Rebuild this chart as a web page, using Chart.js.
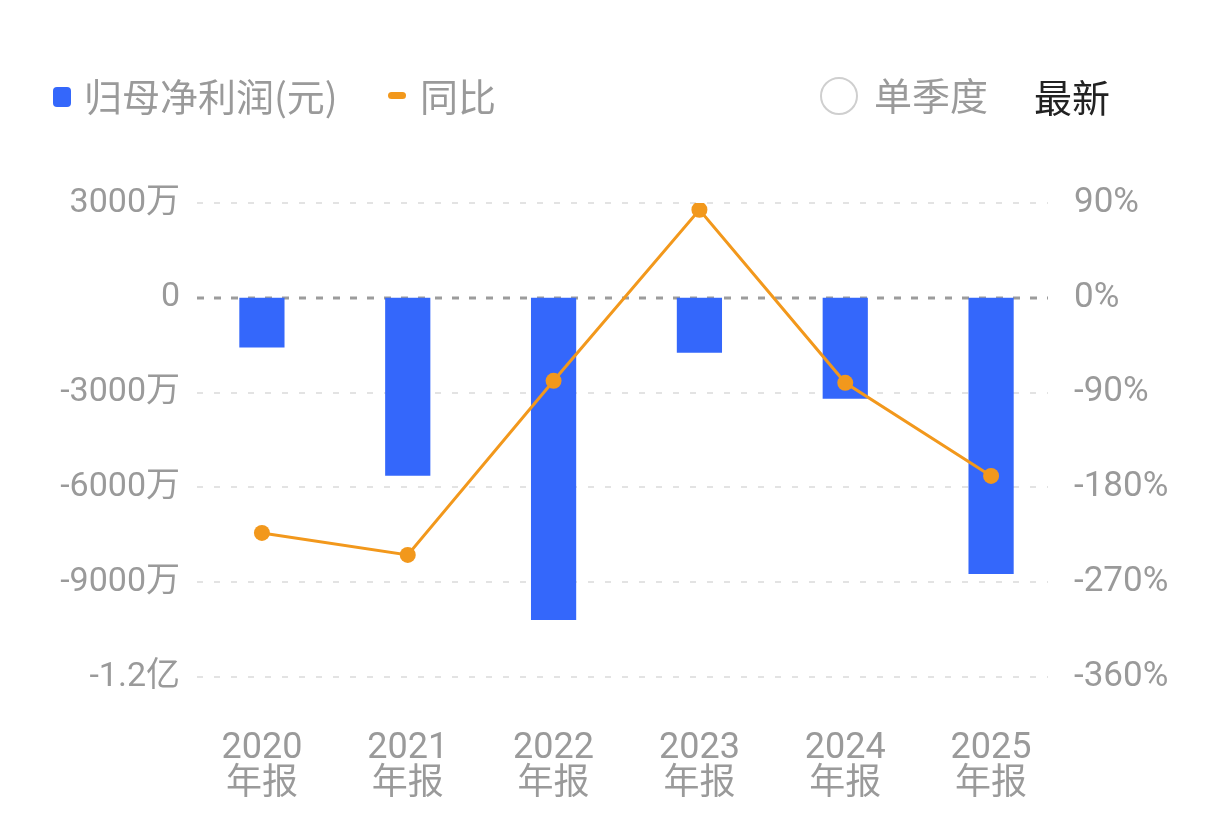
<!DOCTYPE html>
<html>
<head>
<meta charset="utf-8">
<script src="https://cdn.jsdelivr.net/npm/chart.js@4"></script>
<style>
  html, body { margin: 0; padding: 0; background: #fff; }
  #wrap { position: relative; width: 1224px; height: 831px; overflow: hidden; }
  #chartBox { position: absolute; left: 0; top: 0; width: 1224px; height: 831px; }
  .lg { position: absolute; font-family: "Noto Sans CJK SC", sans-serif; font-size: 38px; line-height: 42px; color: #9a9a9a; white-space: nowrap; }
  .sw { position: absolute; }
</style>
</head>
<body>
<div id="wrap">
  <div id="chartBox"><canvas id="c"></canvas></div>
  <div class="sw" style="left:53px;top:87px;width:18px;height:20px;background:#3467fb;border-radius:4px;"></div>
  <div class="lg" style="left:84px;top:74px;">归母净利润(元)</div>
  <div class="sw" style="left:388px;top:92px;width:18px;height:7px;background:#f2981c;border-radius:4px;"></div>
  <div class="lg" style="left:420px;top:74px;">同比</div>
  <div class="sw" style="left:820px;top:77px;width:38px;height:38px;border:2px solid #cfcfcf;border-radius:50%;box-sizing:border-box;"></div>
  <div class="lg" style="left:874px;top:73px;">单季度</div>
  <div class="lg" style="left:1034px;top:75px;color:#222;">最新</div>
</div>
<script>
// ---- data ----
const categories = ['2020', '2021', '2022', '2023', '2024', '2025'];
const categorySuffix = '年报';
const profitWan = [-1574, -5635, -10195, -1741, -3198, -8738];   // 归母净利润, 万元
const yoyPct = [-223.2, -244.1, -78.8, 83.6, -80.7, -169.1];     // 同比, %
const leftTickValues = [3000, 0, -3000, -6000, -9000, -12000];
const leftTickLabels = ['3000万', '0', '-3000万', '-6000万', '-9000万', '-1.2亿'];
const rightTickValues = [90, 0, -90, -180, -270, -360];
const rightTickLabels = ['90%', '0%', '-90%', '-180%', '-270%', '-360%'];

const BLUE = '#3467fb';
const ORANGE = '#f2981c';
const TICK_COLOR = '#9a9a9a';
const FONT = 'Roboto, "Noto Sans CJK SC", sans-serif';

const gridPlugin = {
  id: 'dashGrid',
  beforeDatasetsDraw(chart) {
    const { ctx, chartArea } = chart;
    const y = chart.scales.y;
    const x0 = chartArea.left + 8;
    const x1 = chartArea.right - 16;
    ctx.save();
    leftTickValues.forEach(v => {
      const py = Math.round(y.getPixelForValue(v));
      ctx.beginPath();
      if (v === 0) {
        ctx.strokeStyle = '#9c9c9c';
        ctx.lineWidth = 3;
        ctx.setLineDash([7, 10]);
      } else {
        ctx.strokeStyle = '#e3e3e3';
        ctx.lineWidth = 2;
        ctx.setLineDash([6, 11]);
      }
      ctx.moveTo(x0, py);
      ctx.lineTo(x1, py);
      ctx.stroke();
    });
    ctx.restore();
  }
};

new Chart(document.getElementById('c'), {
  data: {
    labels: categories.map(c => [c, categorySuffix]),
    datasets: [
      {
        type: 'line',
        label: '同比',
        data: yoyPct,
        yAxisID: 'y1',
        borderColor: ORANGE,
        backgroundColor: ORANGE,
        borderWidth: 3,
        pointRadius: 8,
        pointHoverRadius: 8,
        pointBackgroundColor: ORANGE,
        pointBorderWidth: 0,
        tension: 0,
        order: 0
      },
      {
        type: 'bar',
        label: '归母净利润(元)',
        data: profitWan,
        yAxisID: 'y',
        backgroundColor: BLUE,
        barPercentage: 0.31,
        categoryPercentage: 1,
        order: 1
      }
    ]
  },
  options: {
    responsive: true,
    maintainAspectRatio: false,
    animation: false,
    layout: { padding: { top: 203, bottom: 0, left: 0, right: 0 } },
    plugins: { legend: { display: false }, tooltip: { enabled: false } },
    scales: {
      x: {
        grid: { display: false, drawTicks: false },
        border: { display: false },
        ticks: {
          color: TICK_COLOR,
          font: { family: FONT, size: 36, lineHeight: 1.0 },
          padding: 54,
          maxRotation: 0,
          autoSkip: false
        },
        afterFit(scale) { scale.height = 154; }
      },
      y: {
        position: 'left',
        min: -12000,
        max: 3000,
        grid: { display: false, drawTicks: false },
        border: { display: false },
        afterBuildTicks(scale) { scale.ticks = leftTickValues.map(v => ({ value: v })); },
        ticks: {
          color: TICK_COLOR,
          font: { family: FONT, size: 34 },
          padding: 9,
          callback(v) { const i = leftTickValues.indexOf(v); return i >= 0 ? leftTickLabels[i] : ''; }
        },
        afterFit(scale) { scale.width = 189; }
      },
      y1: {
        position: 'right',
        min: -360,
        max: 90,
        grid: { display: false, drawTicks: false },
        border: { display: false },
        afterBuildTicks(scale) { scale.ticks = rightTickValues.map(v => ({ value: v })); },
        ticks: {
          color: TICK_COLOR,
          font: { family: FONT, size: 35 },
          padding: 10,
          callback(v) { const i = rightTickValues.indexOf(v); return i >= 0 ? rightTickLabels[i] : ''; }
        },
        afterFit(scale) { scale.width = 160; }
      }
    }
  },
  plugins: [gridPlugin]
});
</script>
</body>
</html>
